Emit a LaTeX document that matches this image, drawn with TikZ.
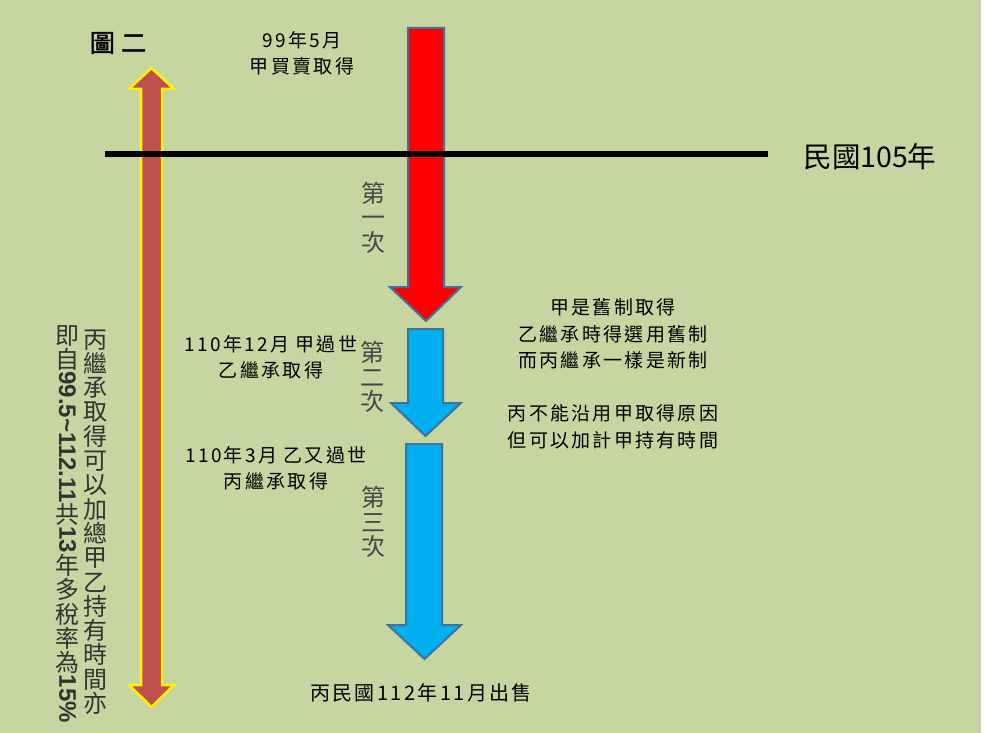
\documentclass[tikz,border=0pt]{standalone}
\usepackage{fontspec}
\setmainfont{Noto Sans CJK TC}
\newfontfamily\cjk{Noto Sans CJK TC}
\newfontfamily\cjkw{Noto Sans CJK TC}[LetterSpace=12]
\newfontfamily\cjkt{Noto Sans CJK TC}[LetterSpace=25,FakeBold=2]
\newfontfamily\latinb{Liberation Sans}
\usepackage{tikz}
\usetikzlibrary{positioning}
\definecolor{bgreen}{RGB}{198,214,160}
\definecolor{brick}{RGB}{192,80,77}
\definecolor{arrowred}{RGB}{255,0,0}
\definecolor{arrowblue}{RGB}{0,176,240}
\definecolor{edgeblue}{RGB}{65,113,156}
\definecolor{counttext}{RGB}{70,70,70}
\tikzset{
  brickarrow/.style={fill=brick, draw=yellow, line width=2.5pt, line join=miter},
  redarrow/.style={fill=arrowred, draw=edgeblue, line width=2pt, line join=miter},
  bluearrow/.style={fill=arrowblue, draw=edgeblue, line width=2pt, line join=miter},
  yearline/.style={draw=black, line width=5pt},
  event/.style={font=\cjkw\fontsize{19}{26}\selectfont, align=center, inner sep=0pt},
  count/.style={font=\cjk\fontsize{24}{24.5}\selectfont, text=counttext, align=center, inner sep=0pt},
  vcol/.style={font=\cjk\fontsize{24}{24.3}\selectfont, text=black!80, align=center, inner sep=0pt}
}
\newcommand{\latinrot}[1]{\rotatebox[origin=c]{-90}{\latinb\bfseries #1}}

\begin{document}
\begin{tikzpicture}[x=1pt,y=-1pt]
    % Background and page edge
    \fill[bgreen] (0,0) rectangle (985,733);
    \useasboundingbox (0,0) rectangle (985,733);
    \fill[white] (981,0) rectangle (985,733);
    \draw[gray!45, line width=1.5pt] (979,0) -- (979,733);
    % Arrows
    \draw[brickarrow] (151.5,68) -- (174,89) -- (162,89) -- (162,685) -- (174,685)
          -- (151.5,707) -- (129,685) -- (141,685) -- (141,89) -- (129,89) -- cycle;
    \draw[redarrow] (408,28) -- (444,28) -- (444,287) -- (461,287) -- (426,321)
          -- (390,287) -- (408,287) -- cycle;
    \draw[bluearrow] (408,329) -- (443,329) -- (443,403) -- (461,403) -- (425.5,436)
          -- (391,403) -- (408,403) -- cycle;
    \draw[bluearrow] (406,444) -- (442,444) -- (442,625) -- (461,625) -- (424.5,659)
          -- (388,625) -- (406,625) -- cycle;
    % Year 105 line
    \draw[yearline] (105,154) -- (768,154) coordinate (lineend);
    \node (year) at (870,157) [font=\cjk\fontsize{28.5}{30}\selectfont] {民國105年};
    % Labels
    \node (title) at (118,43) [font=\cjkt\fontsize{25}{26}\selectfont] {圖二};
    \node (buy) at (302,53) [event] {99年5月\\甲買賣取得};
    \node (first) at (373,217.5) [count] {第\\一\\次};
    \node (heirb) at (271,357) [event] {110年12月 甲過世\\乙繼承取得};
    \node (second) at (372,377) [count] {第\\二\\次};
    \node (heirc) at (276,468.5) [event] {110年3月 乙又過世\\丙繼承取得};
    \node (third) at (373,522) [count] {第\\三\\次};
    \node (rule) at (613,374) [event, font=\cjkw\fontsize{19}{26.5}\selectfont]
          {甲是舊制取得\\乙繼承時得選用舊制\\而丙繼承一樣是新制\\[26.5pt]丙不能沿用甲取得原因\\但可以加計甲持有時間};
    \node (sale) at (421,693) [event, font=\cjkw\fontsize{20}{26}\selectfont] {丙民國112年11月出售};
    % Vertical note
    \node (notea) at (95.5,522) [vcol]
          {丙\\繼\\承\\取\\得\\可\\以\\加\\總\\甲\\乙\\持\\有\\時\\間\\亦};
    \node (noteb) at (67.5,524) [vcol]
          {即\\自\\\latinrot{99.5\textasciitilde112.11}\\共\\\latinrot{13}\\年\\多\\稅\\率\\為\\\latinrot{15\%}};
\end{tikzpicture}
\end{document}
